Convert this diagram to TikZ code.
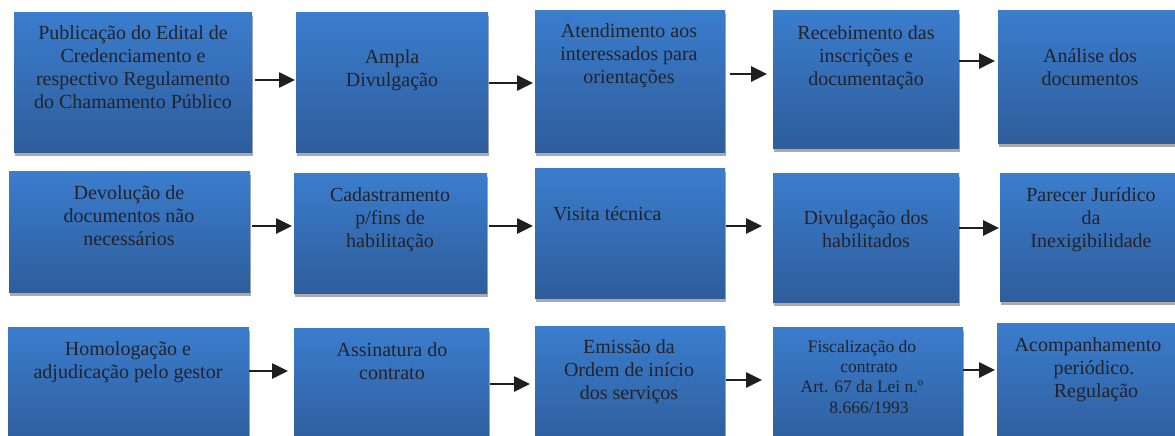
\documentclass[tikz,border=0pt]{standalone}
\usepackage{fontspec}
\setmainfont{Liberation Serif}
\usepackage{xcolor}
\usepackage{tikz}
\usetikzlibrary{arrows.meta,positioning,shadows}

\definecolor{boxtop}{HTML}{3B7DCE}
\definecolor{boxbot}{HTML}{2E5D9A}
\definecolor{shadowgray}{HTML}{ABABAB}
\definecolor{txtcol}{HTML}{22232B}

\begin{document}
\begin{tikzpicture}[x=1pt, y=-1pt,
    box/.style={rectangle, inner sep=0pt, anchor=north west, top color=boxtop, bottom color=boxbot,
        drop shadow={shadow xshift=1pt, shadow yshift=-4pt, fill=shadowgray, opacity=1}},
    txt/.style={anchor=base, align=center, text=txtcol, inner sep=0pt, font=\fontsize{20}{22.7}\selectfont},
    arr/.style={line width=2.6pt, black!88, -{Triangle[length=16pt,width=15pt]}}]
    \useasboundingbox (0,0) rectangle (1175,436);

    % Row 1 (text placed by the baseline of its last line)
    \node[box, minimum width=238pt, minimum height=140pt] (b1) at (14,12) {};
    \node[box, minimum width=192pt, minimum height=140pt] (b2) at (296,12) {};
    \node[box, minimum width=190pt, minimum height=142pt] (b3) at (535,10) {};
    \node[box, minimum width=186pt, minimum height=138pt] (b4) at (773,10) {};
    \node[box, minimum width=180pt, minimum height=133pt] (b5) at (998,10) {};

    \node[txt] (t1) at (133,108) {Publicação do Edital de\\Credenciamento e\\respectivo Regulamento\\do Chamamento Público};
    \node[txt, font=\fontsize{20}{23}\selectfont] (t2) at (392,86) {Ampla\\Divulgação};
    \node[txt] (t3) at (629,83) {Atendimento aos\\interessados para\\orientações};
    \node[txt] (t4) at (866,85) {Recebimento das\\inscrições e\\documentação};
    \node[txt] (t5) at (1090,85) {Análise dos\\documentos};

    % Row 2
    \node[box, minimum width=241pt, minimum height=121pt] (b6) at (9,171) {};
    \node[box, minimum width=193pt, minimum height=120pt] (b7) at (294,173) {};
    \node[box, minimum width=190pt, minimum height=130pt] (b8) at (535,168) {};
    \node[box, minimum width=186pt, minimum height=129pt] (b9) at (773,173) {};
    \node[box, minimum width=180pt, minimum height=128pt] (b10) at (1000,173) {};

    \node[txt] (t6) at (129,245) {Devolução de\\documentos não\\necessários};
    \node[txt] (t7) at (390,247) {Cadastramento\\p/fins de\\habilitação};
    \node[txt, anchor=base west] (t8) at (553,220) {Visita técnica};
    \node[txt] (t9) at (866,247) {Divulgação dos\\habilitados};
    \node[txt] (t10) at (1091,247) {Parecer Jurídico\\da\\Inexigibilidade};

    % Row 3
    \node[box, minimum width=241pt, minimum height=120pt] (b11) at (8,327) {};
    \node[box, minimum width=195pt, minimum height=120pt] (b12) at (294,328) {};
    \node[box, minimum width=190pt, minimum height=120pt] (b13) at (535,326) {};
    \node[box, minimum width=190pt, minimum height=120pt] (b14) at (773,327) {};
    \node[box, minimum width=180pt, minimum height=125pt] (b15) at (997,323) {};

    \node[txt] (t11) at (128,378) {Homologação e\\adjudicação pelo gestor};
    \node[txt] (t12) at (392,379) {Assinatura do\\contrato};
    \node[txt] (t13) at (629,399) {Emissão da\\Ordem de início\\dos serviços};
    \node[txt, font=\fontsize{17.5}{20.3}\selectfont] (t14) at (862,413) {Fiscalização do\\\hspace*{14pt}contrato\\Art. 67 da Lei n.º\\\hspace*{14pt}8.666/1993};
    \node[txt] (t15) at (1088,397) {Acompanhamento\\\hspace*{12pt}periódico.\\\hspace*{16pt}Regulação};

    % Arrows
    \draw[arr, shorten <=3pt, shorten >=1pt] (b1.east |- 0,80) -- (b2.west |- 0,80);
    \draw[arr, shorten <=1pt, shorten >=2pt] (b2.east |- 0,83) -- (b3.west |- 0,83);
    \draw[arr, shorten <=5pt, shorten >=6pt] (b3.east |- 0,74) -- (b4.west |- 0,74);
    \draw[arr, shorten >=3pt] (b4.east |- 0,61) -- (b5.west |- 0,61);

    \draw[arr, shorten <=2pt, shorten >=2pt] (b6.east |- 0,226) -- (b7.west |- 0,226);
    \draw[arr, shorten <=2pt, shorten >=2pt] (b7.east |- 0,226) -- (b8.west |- 0,226);
    \draw[arr, shorten <=1pt, shorten >=11pt] (b8.east |- 0,226) -- (b9.west |- 0,226);
    \draw[arr, shorten >=1pt] (b9.east |- 0,228) -- (b10.west |- 0,228);

    \draw[arr, shorten >=6pt] (b11.east |- 0,371) -- (b12.west |- 0,371);
    \draw[arr, shorten <=1pt, shorten >=5pt] (b12.east |- 0,384) -- (b13.west |- 0,384);
    \draw[arr, shorten <=1pt, shorten >=11pt] (b13.east |- 0,380) -- (b14.west |- 0,380);
    \draw[arr, shorten >=2pt] (b14.east |- 0,370) -- (b15.west |- 0,370);
\end{tikzpicture}
\end{document}
